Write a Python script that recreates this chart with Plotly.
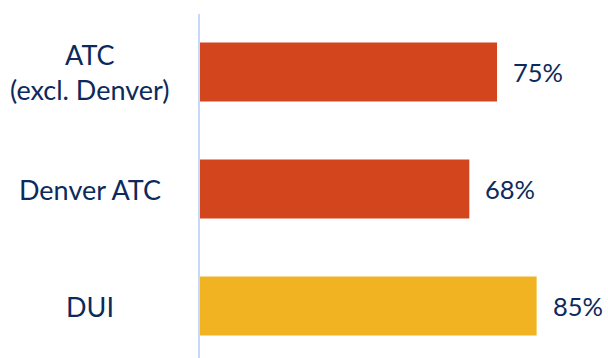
import plotly.graph_objects as go

categories = ["DUI", "Denver ATC", "ATC<br>(excl. Denver)"]
values = [85, 68, 75]
bar_colors = ["#F2B323", "#D3461D", "#D3461D"]

navy = "#0C2A5C"
font_family = "Lato, 'Open Sans', sans-serif"

fig = go.Figure(go.Bar(
    x=values, y=categories, orientation="h",
    marker=dict(color=bar_colors, line=dict(width=0)),
    width=0.505, hoverinfo="skip",
))

ann = []
for c, v in zip(categories, values):
    ann.append(dict(x=v, y=c, xref="x", yref="y", text=f"{v}%", showarrow=False,
                    xanchor="left", xshift=14, font=dict(size=25.5, color=navy, family=font_family)))
    ann.append(dict(x=-110/400, y=c, xref="paper", yref="y", text=c, showarrow=False,
                    xanchor="center", align="center",
                    font=dict(size=27, color=navy, family=font_family)))

fig.update_layout(
    width=608, height=358,
    margin=dict(l=200, r=8, t=14, b=0),
    paper_bgcolor="white", plot_bgcolor="white",
    showlegend=False,
    xaxis=dict(range=[0, 101], visible=False, fixedrange=True),
    yaxis=dict(range=[-0.444, 2.496], showticklabels=False, ticks="",
               showgrid=False, zeroline=False, fixedrange=True,
               showline=True, linecolor="#C6D9F6", linewidth=2,
               categoryorder="array", categoryarray=categories),
    annotations=ann,
)

fig.write_html("out.html", config={"displayModeBar": False, "staticPlot": True},
               post_script="document.body.style.margin='0';document.body.style.overflow='hidden';")
